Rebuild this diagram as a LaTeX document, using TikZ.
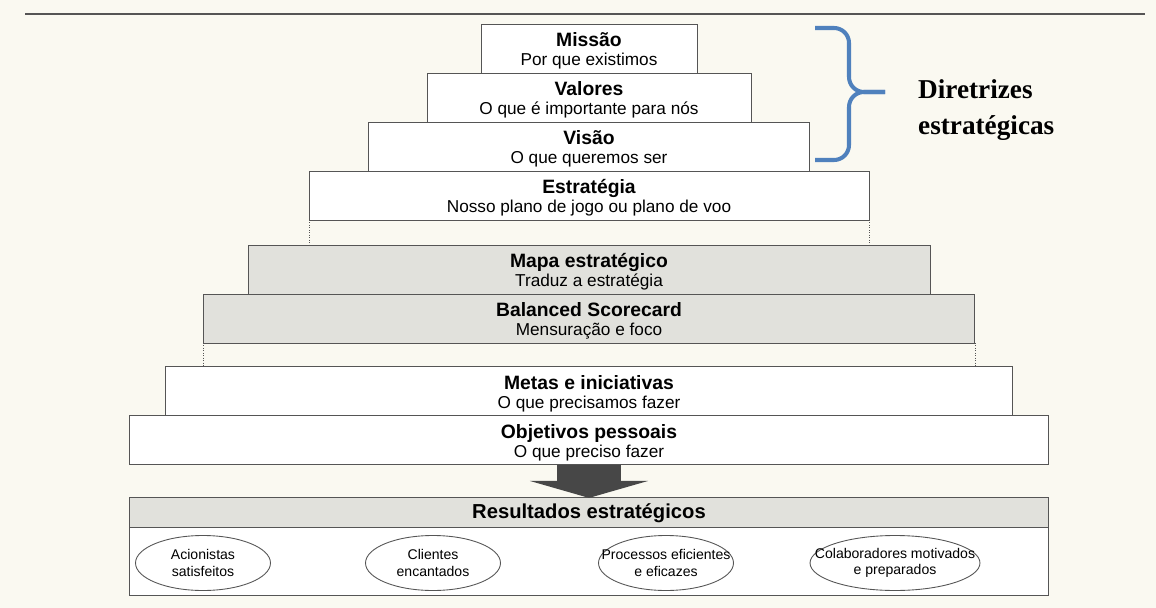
\documentclass[tikz,border=0pt]{standalone}
\usepackage{fontspec}
\setmainfont{Liberation Sans}
\newfontfamily\serifbf{Liberation Serif}
\usetikzlibrary{arrows.meta,positioning,shapes.geometric}
\definecolor{PageCream}{HTML}{FAF9F1}
\definecolor{BoxLine}{HTML}{555555}
\definecolor{BoxGray}{HTML}{E1E1DC}
\definecolor{BraceBlue}{HTML}{4F81BD}
\definecolor{ArrowGray}{HTML}{474747}
\newcommand{\lvtext}[2]{{\fontsize{11}{12}\selectfont\bfseries #1}\\[-1pt]{\fontsize{9.8}{11}\selectfont #2}}

\begin{document}
\begin{tikzpicture}[x=0.02cm,y=-0.02cm,node distance=0pt]
    \tikzset{box/.style={draw=BoxLine,line width=0.5pt,fill=white,inner sep=0pt,outer sep=0pt,align=center},
      lv/.style={box,text height=0.84cm,text depth=0.14cm},
      lvg/.style={lv,fill=BoxGray},
      res/.style={ellipse,draw=BoxLine,line width=0.5pt,fill=white,minimum width=2.7cm,
      minimum height=1.1cm,inner xsep=-0.4cm,inner ysep=-0.1cm,align=center,
      font=\fontsize{8}{9.5}\selectfont},
      bigarrow/.style={ArrowGray,line width=1.28cm,-{Triangle[width=2.36cm,length=0.34cm]}},
      dots/.style={BoxLine,densely dotted,line width=0.4pt},
      brc/.style={BraceBlue,line width=2.3pt,rounded corners=0.3cm}}
    \fill[PageCream] (0,0) rectangle (1156,608);
    \useasboundingbox (0,0) rectangle (1156,608);
    \draw[BoxLine,line width=1.3pt] (25,14) -- (1145,14);
    \node[lv,minimum width=4.32cm] at (589,48.5) (mis) {\lvtext{Missão}{Por que existimos}};
    \node[lv,minimum width=6.48cm,below=of mis] (val) {\lvtext{Valores}{O que é importante para nós}};
    \node[lv,minimum width=8.82cm,below=of val] (vis) {\lvtext{Visão}{O que queremos ser}};
    \node[lv,minimum width=11.2cm,below=of vis] (est) {\lvtext{Estratégia}{Nosso plano de jogo ou plano de voo}};
    \node[lvg,minimum width=13.64cm,below=0.5cm of est] (map) {\lvtext{Mapa estratégico}{Traduz a estratégia}};
    \node[lvg,minimum width=15.44cm,below=of map] (bsc) {\lvtext{Balanced Scorecard}{Mensuração e foco}};
    \node[lv,minimum width=16.94cm,below=0.48cm of bsc] (met) {\lvtext{Metas e iniciativas}{O que precisamos fazer}};
    \node[lv,minimum width=18.4cm,below=of met] (obj) {\lvtext{Objetivos pessoais}{O que preciso fazer}};
    \draw[dots] (est.south west) -- (est.south west |- map.north);
    \draw[dots] (est.south east) -- (est.south east |- map.north);
    \draw[dots] (bsc.south west) -- (bsc.south west |- met.north);
    \draw[dots] (bsc.south east) -- (bsc.south east |- met.north);
    \node[box,fill=BoxGray,minimum width=18.4cm,minimum height=0.6cm,below=0.66cm of obj,
      font=\fontsize{11.5}{12}\selectfont\bfseries] (rhead) {Resultados estratégicos};
    \node[box,minimum width=18.4cm,minimum height=1.36cm,below=of rhead] (rbody) {};
    \draw[bigarrow] (obj.south) -- (rhead.north);
    \node[res] at (203,563) (acio) {Acionistas\\satisfeitos};
    \node[res] at (433,563) (cli) {Clientes\\encantados};
    \node[res] at (666,563) (proc) {Processos eficientes\\e eficazes};
    \node[res,minimum width=3.38cm] at (895,563) (colab) {Colaboradores motivados\\e preparados};
    \coordinate (btip) at (885,92);
    \draw[brc] (815,28) -- (849,28) -- (849,92) -- (btip);
    \draw[brc] (btip) -- (849,92) -- (849,160) -- (815,160);
    \node[anchor=west,align=left,font=\serifbf\bfseries\fontsize{15.5}{20.5}\selectfont] at (912,110) (dir) {Diretrizes\\estratégicas};
\end{tikzpicture}
\end{document}
